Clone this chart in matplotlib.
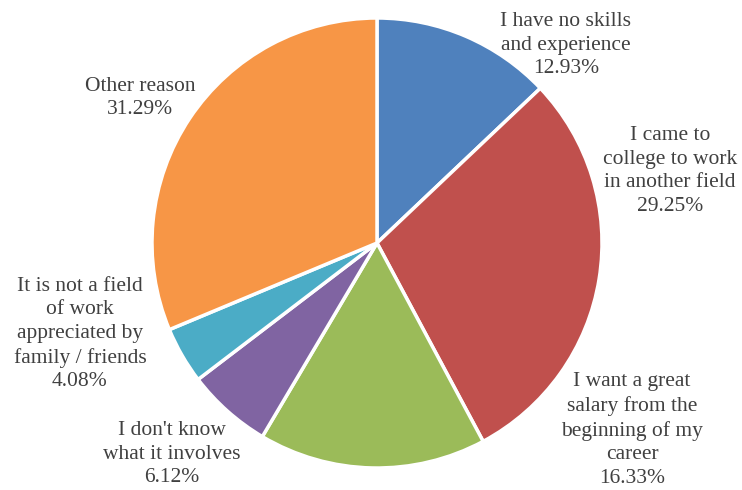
import matplotlib
matplotlib.use("Agg")
import matplotlib.pyplot as plt

# --------------------------------------------------
# Data
# --------------------------------------------------
labels = [
    "I have no skills\nand experience",
    "I came to\ncollege to work\nin another field",
    "I want a great\nsalary from the\nbeginning of my\ncareer",
    "I don't know\nwhat it involves",
    "It is not a field\nof work\nappreciated by\nfamily / friends",
    "Other reason",
]
values = [12.93, 29.25, 16.33, 6.12, 4.08, 31.29]
colors = ["#4F81BD", "#C0504D", "#9BBB59", "#8064A2", "#4BACC6", "#F79646"]

# label centres in pixels (x from left, y from top)
label_pos = [(566, 45), (670, 171), (632, 430), (172, 454), (80, 334), (140, 98)]

W, H = 742, 490
cx, cy, R = 377, 243, 225

plt.rcParams["font.family"] = ["Liberation Serif", "DejaVu Serif"]

fig = plt.figure(figsize=(W / 100, H / 100), dpi=100)
ax = fig.add_axes([0, 0, 1, 1])

ax.pie(
    values,
    colors=colors,
    startangle=90,
    counterclock=False,
    radius=1.0,
    wedgeprops=dict(edgecolor="white", linewidth=2.5),
)

# pie() resets the limits, so set them afterwards
ax.set_xlim(-cx / R, (W - cx) / R)
ax.set_ylim(-(H - cy) / R, cy / R)
ax.set_aspect("equal")
ax.axis("off")

for lab, val, (px, py) in zip(labels, values, label_pos):
    ax.text(
        (px - cx) / R,
        (cy - py) / R,
        f"{lab}\n{val:.2f}%",
        ha="center",
        va="center",
        fontsize=15.5,
        color="#404040",
        linespacing=1.32,
    )

fig.savefig("out.png", dpi=100)
